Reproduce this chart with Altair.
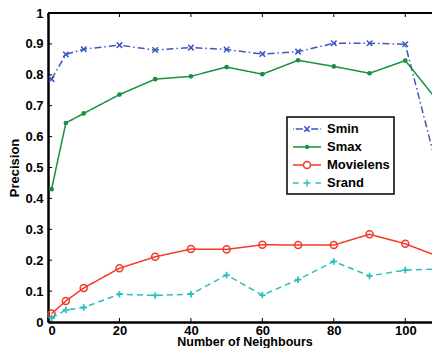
import altair as alt
import pandas as pd

neighbours = [1, 5, 10, 20, 30, 40, 50, 60, 70, 80, 90, 100, 110]
smin = [0.786, 0.866, 0.883, 0.896, 0.880, 0.888, 0.882, 0.867, 0.875, 0.902, 0.902, 0.899, 0.45]
smax = [0.430, 0.644, 0.675, 0.736, 0.786, 0.795, 0.825, 0.802, 0.847, 0.827, 0.805, 0.846, 0.702]
movielens = [0.027, 0.068, 0.110, 0.174, 0.211, 0.236, 0.235, 0.250, 0.249, 0.249, 0.284, 0.253, 0.209]
srand = [0.013, 0.039, 0.047, 0.090, 0.086, 0.090, 0.152, 0.087, 0.137, 0.196, 0.149, 0.168, 0.172]
series_names = ["Smin", "Smax", "Movielens", "Srand"]
x_ticks = [0, 20, 40, 60, 80, 100]
y_ticks = [0, 0.1, 0.2, 0.3, 0.4, 0.5, 0.6, 0.7, 0.8, 0.9, 1]

colors = ["#3e56c0", "#179040", "#f23a2a", "#2cbfbf"]
dashes = [[7, 3, 1.5, 3], [1, 0], [1, 0], [6, 4]]

rows = []
for name, vals in zip(series_names, [smin, smax, movielens, srand]):
    for xv, yv in zip(neighbours, vals):
        rows.append({"x": xv, "y": yv, "series": name})
df = pd.DataFrame(rows)

# visible plot area is 384 px wide; the x axis (0..110) runs to 393 px and is cropped at the right
W, H = 384, 309
XR = 393
FONT = "Liberation Sans"

xscale = alt.Scale(domain=[0, 110], range=[0, XR], nice=False, zero=False)
yscale = alt.Scale(domain=[0, 1], nice=False)
cscale = alt.Scale(domain=series_names, range=colors)
xaxis = alt.Axis(values=x_ticks, title="Number of Neighbours", format="d")
yaxis = alt.Axis(values=y_ticks, title="Precision", format="~g")

base = alt.Chart(df)

marker_style = {
    "Smin": dict(shape="M-1,-1L1,1M1,-1L-1,1", size=30, filled=False, strokeWidth=1.5),
    "Smax": dict(shape="circle", size=22, filled=True),
    "Movielens": dict(shape="circle", size=50, filled=False, strokeWidth=1.5),
    "Srand": dict(shape="M-1,0L1,0M0,-1L0,1", size=42, filled=False, strokeWidth=1.8),
}
layers = []
for name, col, dash in zip(series_names, colors, dashes):
    sub = base.transform_filter(alt.datum.series == name)
    enc = dict(x=alt.X("x:Q", scale=xscale, axis=xaxis), y=alt.Y("y:Q", scale=yscale, axis=yaxis))
    layers.append(sub.mark_line(strokeWidth=1.5, color=col, strokeDash=dash).encode(**enc))
    layers.append(sub.mark_point(opacity=1, color=col, **marker_style[name]).encode(**enc))

legend_paths = [
    "M-2,0H-1.9M-1.6,0H-0.6M-0.4,-0.4L0.4,0.4M0.4,-0.4L-0.4,0.4M0.6,0H1.6M1.9,0H2",
    "M-2,0H2M0.2,0A0.2,0.2 0 1,1 -0.2,0A0.2,0.2 0 1,1 0.2,0",
    "M-2,0H-0.5M0.5,0H2M0.5,0A0.5,0.5 0 1,1 -0.5,0A0.5,0.5 0 1,1 0.5,0",
    "M-2,0H-1.2M-0.5,0H0.5M0,-0.5V0.5M1.2,0H2",
]
leg = alt.Legend(
    title=None, orient="none", legendX=239, legendY=104,
    padding=4, symbolOffset=8, labelOffset=12, rowPadding=3,
    symbolSize=196, symbolStrokeWidth=1.5,
    labelFont=FONT, labelFontSize=13, labelFontWeight="bold", labelColor="black",
    strokeColor="black", fillColor="white", cornerRadius=0,
)
legend_layer = base.transform_filter("false").mark_point(filled=False, size=196, strokeWidth=1.5, opacity=1).encode(
    x=alt.X("x:Q", scale=xscale, axis=xaxis),
    y=alt.Y("y:Q", scale=yscale, axis=yaxis),
    shape=alt.Shape("series:N", scale=alt.Scale(domain=series_names, range=legend_paths), legend=leg),
    color=alt.Color("series:N", scale=cscale, legend=leg),
)

xt = pd.DataFrame({"x": x_ticks})
yt = pd.DataFrame({"y": y_ticks})
xenc = alt.X("x:Q", scale=xscale, axis=xaxis)
yenc = alt.Y("y:Q", scale=yscale, axis=yaxis)
bottom_ticks = alt.Chart(xt).mark_rule(color="black", strokeWidth=1).encode(
    x=xenc, y=alt.value(H), y2=alt.value(H - 4))
top_ticks = alt.Chart(xt).mark_rule(color="black", strokeWidth=1).encode(
    x=xenc, y=alt.value(0), y2=alt.value(4))
left_ticks = alt.Chart(yt).mark_rule(color="black", strokeWidth=1).encode(
    y=yenc, x=alt.value(0), x2=alt.value(4))
right_ticks = alt.Chart(yt).mark_rule(color="black", strokeWidth=1).encode(
    y=yenc, x=alt.value(XR), x2=alt.value(XR - 4))
top_frame = alt.Chart(xt).mark_rule(color="black", strokeWidth=2).encode(
    y=alt.value(0), x=alt.value(0), x2=alt.value(XR))

chart = alt.layer(
    *layers, bottom_ticks, top_ticks, left_ticks, right_ticks, top_frame, legend_layer
).properties(
    width=W, height=H,
    autosize=alt.AutoSizeParams(type="none"),
    padding={"left": 40, "top": 5, "right": 0, "bottom": 26},
).configure_view(
    stroke=None
).configure_axis(
    grid=False, ticks=False, domainColor="black", domainWidth=2.5,
    labelFont=FONT, labelFontSize=13, labelFontWeight="bold", labelColor="black",
    titleFont=FONT, titleFontSize=13, titleFontWeight="bold", titleColor="black",
).configure_axisX(
    labelPadding=2, titleBaseline="alphabetic", titleY=23.3, titleFontSize=12.5
).configure_axisY(
    labelPadding=5, titlePadding=3
).configure_legend(
    strokeWidth=1.5
)

chart.save("out.html", embed_options={"renderer": "svg", "actions": False})
